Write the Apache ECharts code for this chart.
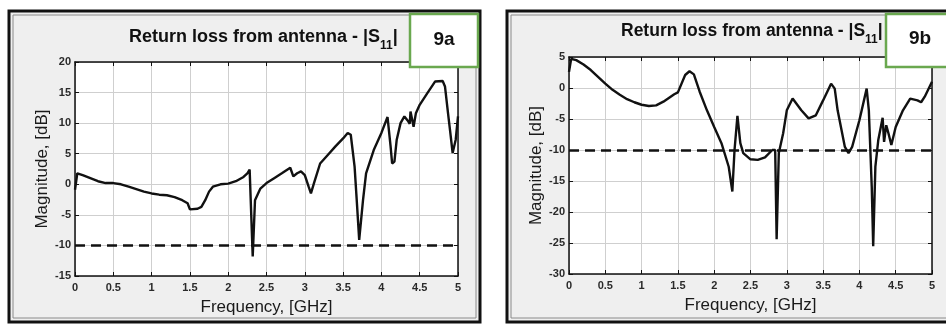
<!DOCTYPE html>
<html>
<head>
<meta charset="utf-8">
<script src="https://cdn.jsdelivr.net/npm/echarts@6/dist/echarts.min.js"></script>
<style>
  html, body { margin: 0; padding: 0; background: #fff; }
  #chart { width: 946px; height: 324px; }
</style>
</head>
<body>
<div id="chart"></div>
<script>
// panel 9a
const freqA = [0, 0.03, 0.1, 0.2, 0.3, 0.4, 0.5, 0.6, 0.7, 0.8, 0.9, 1.0, 1.1, 1.2, 1.3, 1.4, 1.47, 1.5, 1.6, 1.65,
  1.7, 1.75, 1.8, 1.9, 2.0, 2.1, 2.2, 2.25, 2.28, 2.32, 2.35, 2.42, 2.5, 2.6, 2.7, 2.81, 2.85, 2.9, 2.95, 3.0,
  3.05, 3.08, 3.12, 3.2, 3.3, 3.4, 3.5, 3.56, 3.6, 3.65, 3.68, 3.71, 3.76, 3.8, 3.9, 4.0, 4.08, 4.12, 4.14, 4.17,
  4.2, 4.25, 4.3, 4.35, 4.37, 4.38, 4.42, 4.45, 4.5, 4.6, 4.7, 4.8, 4.83, 4.87, 4.9, 4.93, 4.97, 5.0];
const magA = [-0.9, 1.8, 1.5, 1.0, 0.5, 0.2, 0.2, 0, -0.4, -0.8, -1.2, -1.5, -1.7, -1.8, -2.1, -2.6, -3.1, -4.1, -4.0, -3.7,
  -2.6, -1.2, -0.4, 0, 0.1, 0.5, 1.2, 1.8, 2.4, -11.8, -2.6, -0.7, 0.2, 1.0, 1.8, 2.7, 1.3, 1.8, 2.1, 1.5,
  -0.4, -1.5, 0.2, 3.4, 4.8, 6.2, 7.5, 8.4, 8.1, 2.9, -3, -9.1, -2.6, 1.8, 5.6, 8.4, 11.0, 6.2, 3.4, 3.7,
  7.3, 10, 11.1, 10.3, 9.9, 11.9, 9.4, 11.6, 13.0, 14.9, 16.8, 16.9, 16.0, 11.6, 8.4, 5.1, 7.3, 11.1];

// panel 9b
const freqB = [0, 0.03, 0.1, 0.2, 0.3, 0.4, 0.5, 0.6, 0.7, 0.8, 0.9, 1.0, 1.1, 1.2, 1.3, 1.4, 1.45, 1.5, 1.6, 1.66,
  1.72, 1.8, 1.9, 2.0, 2.1, 2.2, 2.25, 2.28, 2.32, 2.36, 2.4, 2.5, 2.6, 2.7, 2.8, 2.84, 2.86, 2.89, 2.95, 3.0,
  3.08, 3.2, 3.3, 3.4, 3.5, 3.61, 3.66, 3.7, 3.8, 3.85, 3.9, 4.0, 4.1, 4.13, 4.17, 4.19, 4.22, 4.26, 4.32, 4.34,
  4.37, 4.4, 4.44, 4.5, 4.6, 4.7, 4.8, 4.85, 4.9, 5.0];
const magB = [2.6, 4.7, 4.5, 3.8, 2.9, 1.8, 0.7, -0.3, -1.1, -1.8, -2.3, -2.7, -2.9, -2.8, -2.2, -1.4, -1.0, -0.7, 2.1, 2.7,
  2.2, -0.6, -3.6, -6.3, -8.9, -12.7, -16.7, -10, -4.5, -8.9, -10.5, -11.5, -11.6, -11.2, -10, -10, -24.4, -10.5, -7.3, -3.6,
  -1.7, -3.6, -4.9, -4.4, -2.0, 0.7, -0.1, -3.6, -9.5, -10.5, -9.5, -5.2, -0.1, -3.6, -15.9, -25.5, -12.7, -8.4, -4.8, -8.7,
  -6.0, -7.3, -9.2, -6.3, -3.6, -1.7, -2.0, -2.3, -1.4, 1.0];

const threshold = -10;
const panelTitle = 'Return loss from antenna - |S';
const panelLabels = ['9a', '9b'];
const yRanges = [[-15, 20], [-30, 5]];

const tickFont = { color: '#2a2a2a', fontSize: 11, fontWeight: 'bold', fontFamily: 'Liberation Sans Narrow, Liberation Sans, Arial' };
const nameFont = { color: '#1a1a1a', fontSize: 17, fontFamily: 'Liberation Sans, Arial' };
const gridLine = { show: true, lineStyle: { color: '#cfcfcf', width: 1 } };

const grids = [
  { left: 75, top: 62, width: 383, height: 214 },
  { left: 569, top: 57, width: 363, height: 217 }
];

function xAxes(i) {
  return [
    {
      type: 'value', gridIndex: i, min: 0, max: 5, interval: 0.5, position: 'bottom',
      name: 'Frequency, [GHz]', nameLocation: 'middle', nameGap: 23, nameTextStyle: nameFont,
      axisLine: { onZero: false, lineStyle: { color: '#111', width: 1.5 } },
      axisTick: { inside: true, length: 4, lineStyle: { color: '#111' } },
      axisLabel: Object.assign({ margin: 6 }, tickFont),
      splitLine: gridLine
    },
    {
      type: 'value', gridIndex: i, min: 0, max: 5, interval: 0.5, position: 'top',
      axisLine: { onZero: false, lineStyle: { color: '#111', width: 1.5 } },
      axisTick: { inside: true, length: 4, lineStyle: { color: '#111' } },
      axisLabel: { show: false }, splitLine: { show: false }
    }
  ];
}

function yAxes(i) {
  return [
    {
      type: 'value', gridIndex: i, min: yRanges[i][0], max: yRanges[i][1], interval: 5, position: 'left',
      name: 'Magnitude, [dB]', nameLocation: 'middle', nameGap: i === 0 ? 24 : 21, nameTextStyle: nameFont,
      axisLine: { show: true, onZero: false, lineStyle: { color: '#111', width: 1.5 } },
      axisTick: { show: true, inside: true, length: 4, lineStyle: { color: '#111' } },
      axisLabel: Object.assign({ margin: 4 }, tickFont),
      splitLine: gridLine
    },
    {
      type: 'value', gridIndex: i, min: yRanges[i][0], max: yRanges[i][1], interval: 5, position: 'right',
      axisLine: { show: true, onZero: false, lineStyle: { color: '#111', width: 1.5 } },
      axisTick: { show: true, inside: true, length: 4, lineStyle: { color: '#111' } },
      axisLabel: { show: false }, splitLine: { show: false }
    }
  ];
}

function lineSeries(i, xs, ys) {
  return {
    type: 'line', xAxisIndex: i * 2, yAxisIndex: i * 2,
    data: xs.map((x, k) => [x, ys[k]]),
    showSymbol: false, smooth: false,
    lineStyle: { color: '#111', width: 2.4 },
    markLine: {
      silent: true, symbol: 'none', label: { show: false },
      lineStyle: { color: '#111', width: 2.5, type: [10, 6] },
      data: [{ yAxis: threshold }]
    },
    z: 5
  };
}

function titleRich(size) {
  return {
    m: { fontSize: size, fontWeight: 'bold', color: '#111', fontFamily: 'Liberation Sans, Arial', lineHeight: 20, verticalAlign: 'top' },
    s: { fontSize: 12, fontWeight: 'bold', color: '#111', fontFamily: 'Liberation Sans, Arial', lineHeight: 24, verticalAlign: 'bottom' }
  };
}

const chart = echarts.init(document.getElementById('chart'));
chart.setOption({
  animation: false,
  backgroundColor: '#fff',
  title: [
    { text: '{m|' + panelTitle + '}{s|11}{m||}', left: 129, top: 28, padding: 0, textStyle: { rich: titleRich(18) } },
    { text: '{m|' + panelTitle + '}{s|11}{m||}', left: 621, top: 22, padding: 0, textStyle: { rich: titleRich(17.5) } }
  ],
  grid: grids.map(g => Object.assign({ show: true, backgroundColor: '#fff', borderWidth: 0 }, g)),
  xAxis: [...xAxes(0), ...xAxes(1)],
  yAxis: [...yAxes(0), ...yAxes(1)],
  series: [lineSeries(0, freqA, magA), lineSeries(1, freqB, magB)],
  graphic: [
    // panel frames
    { type: 'rect', z: -10, shape: { x: 9, y: 11, width: 471, height: 311 }, style: { fill: '#efefef', stroke: '#111', lineWidth: 3 } },
    { type: 'rect', z: -9, shape: { x: 13, y: 15, width: 463, height: 303 }, style: { fill: 'none', stroke: '#8a8a8a', lineWidth: 1 } },
    { type: 'rect', z: -10, shape: { x: 507, y: 11, width: 450, height: 311 }, style: { fill: '#efefef', stroke: '#111', lineWidth: 3 } },
    { type: 'rect', z: -9, shape: { x: 511, y: 15, width: 440, height: 303 }, style: { fill: 'none', stroke: '#8a8a8a', lineWidth: 1 } },
    // panel labels
    { type: 'rect', z: 100, shape: { x: 410, y: 14, width: 68, height: 53 }, style: { fill: '#fff', stroke: '#6aa84f', lineWidth: 2.5 } },
    { type: 'text', z: 101, x: 444, y: 40, style: { text: panelLabels[0], fill: '#111', font: 'bold 19px Liberation Sans, Arial', align: 'center', verticalAlign: 'middle' } },
    { type: 'rect', z: 100, shape: { x: 886, y: 14, width: 70, height: 53 }, style: { fill: '#fff', stroke: '#6aa84f', lineWidth: 2.5 } },
    { type: 'text', z: 101, x: 920, y: 39, style: { text: panelLabels[1], fill: '#111', font: 'bold 19px Liberation Sans, Arial', align: 'center', verticalAlign: 'middle' } }
  ]
});
</script>
</body>
</html>
